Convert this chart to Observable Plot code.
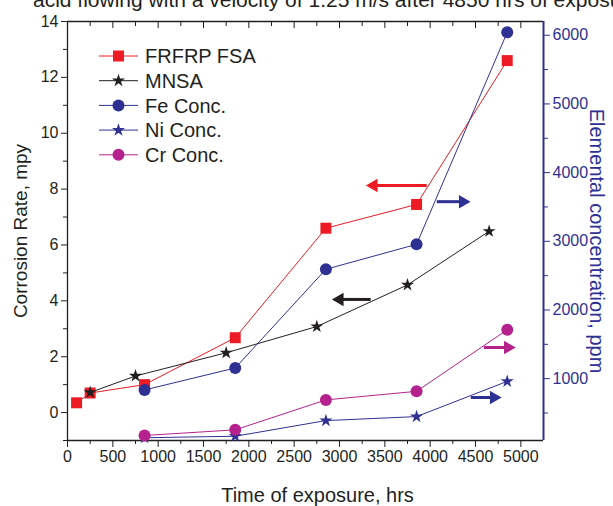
<!DOCTYPE html>
<html><head><meta charset="utf-8">
<script src="https://cdn.jsdelivr.net/npm/d3@7"></script>
<script src="https://cdn.jsdelivr.net/npm/@observablehq/plot@0.6"></script>
<style>
body{margin:0;background:#fff;overflow:hidden}
#wrap{position:relative;width:613px;height:506px;overflow:hidden;background:#fff}
#title{position:absolute;left:33px;top:-12px;white-space:nowrap;font:21px "Liberation Sans",Arial,sans-serif;color:#231f20}
#chart{position:absolute;left:0;top:0}
</style></head><body><div id="wrap"><div id="chart"></div><div id="title">acid flowing with a velocity of 1.25 m/s after 4850 hrs of exposure</div></div>
<script>
// ---- data ----
const frfrpTime = [100, 250, 850, 1850, 2850, 3850, 4850];
const frfrpRate = [0.35, 0.70, 1.00, 2.68, 6.60, 7.45, 12.60];
const mnsaTime  = [250, 750, 1750, 2750, 3750, 4650];
const mnsaRate  = [0.72, 1.31, 2.14, 3.08, 4.57, 6.49];
const elemTime  = [850, 1850, 2850, 3850, 4850];
const feConc    = [836, 1156, 2593, 2956, 6043];
const niConc    = [140, 162, 390, 448, 961];
const crConc    = [173, 255, 691, 816, 1712];
const xMajorTicks = [0, 500, 1000, 1500, 2000, 2500, 3000, 3500, 4000, 4500, 5000];
const xMinorTicks = [250, 750, 1250, 1750, 2250, 2750, 3250, 3750, 4250, 4750];
const yMajorTicks = [0, 2, 4, 6, 8, 10, 12, 14];
const yMinorTicks = [-1, 1, 3, 5, 7, 9, 11, 13];
const ppmMajorTicks = [1000, 2000, 3000, 4000, 5000, 6000];
const ppmMinorTicks = [500, 1500, 2500, 3500, 4500, 5500];
const seriesNames = ["FRFRP FSA", "MNSA", "Fe Conc.", "Ni Conc.", "Cr Conc."];
// direction arrows (annotation): start time, end time, level on left axis
const arrowX1 = [3962, 4073, 3344, 4592, 4448];
const arrowX2 = [3377, 4360, 3002, 4857, 4702];
const arrowY  = [8.13, 7.55, 4.05, 2.33, 0.54];

// ---- styles ----
const RED = "#ed1c24", BLACK = "#231f20", NAVY = "#2e3192", MAG = "#b5228e";
const seriesColors = [RED, BLACK, NAVY, NAVY, MAG];
const seriesSymbols = ["square", "star", "circle", "star", "circle"];
const seriesR = [6.2, 4.1, 6, 4.1, 6];
const arrowColors = [RED, NAVY, BLACK, MAG, NAVY];
const FONT = '"Liberation Sans", Arial, sans-serif';

// right axis (ppm) mapped onto the left scale
const yLo = -1, yHi = 14, pLo = 100, pHi = 6200;
const toLeft = p => yLo + (p - pLo) * (yHi - yLo) / (pHi - pLo);
const fromLeft = v => pLo + (v - yLo) * (pHi - pLo) / (yHi - yLo);

const frfrp = frfrpTime.map((t, i) => ({t, v: frfrpRate[i]}));
const mnsa = mnsaTime.map((t, i) => ({t, v: mnsaRate[i]}));
const fe = elemTime.map((t, i) => ({t, v: toLeft(feConc[i])}));
const ni = elemTime.map((t, i) => ({t, v: toLeft(niConc[i])}));
const cr = elemTime.map((t, i) => ({t, v: toLeft(crConc[i])}));
const series = [frfrp, mnsa, fe, ni, cr];
const arrows = arrowX1.map((x1, i) => ({x1, x2: arrowX2[i], y: arrowY[i], c: arrowColors[i], dir: arrowX2[i] > x1 ? 90 : -90}));

function legend(index, scales, values, dims) {
  const g = d3.create("svg:g");
  const x0 = dims.marginLeft + 32, y0 = dims.marginTop + 35, step = 24.7;
  seriesNames.forEach((name, i) => {
    const y = y0 + i * step;
    g.append("line").attr("x1", x0).attr("x2", x0 + 39).attr("y1", y).attr("y2", y)
      .attr("stroke", seriesColors[i]).attr("stroke-width", 1);
    const sym = {square: d3.symbolSquare, star: d3.symbolStar, circle: d3.symbolCircle}[seriesSymbols[i]];
    g.append("path").attr("transform", `translate(${x0 + 19.5},${y})`)
      .attr("d", d3.symbol(sym, Math.PI * seriesR[i] * seriesR[i])())
      .attr("fill", seriesColors[i]);
    g.append("text").attr("x", x0 + 46).attr("y", y).attr("dy", "0.36em")
      .attr("text-anchor", "start")
      .attr("font-size", 20).attr("font-family", FONT).attr("fill", BLACK).text(name);
  });
  return g.node();
}

const marks = [
  // frame lines
  Plot.ruleY([yHi], {stroke: BLACK, strokeWidth: 1.3}),
  Plot.ruleY([yLo], {stroke: BLACK, strokeWidth: 1.3}),
  Plot.ruleX([0], {stroke: BLACK, strokeWidth: 1.3}),
  // axes
  Plot.axisX(xMajorTicks, {anchor: "bottom", tickSize: 7, tickPadding: 3, tickFormat: d => String(d), label: null, fontSize: 16, color: BLACK}),
  Plot.axisX(xMinorTicks, {anchor: "bottom", tickSize: 4, tickFormat: () => "", label: null, color: BLACK}),
  Plot.axisX(xMajorTicks, {anchor: "top", tickSize: 6, dy: 6, tickFormat: () => "", label: null, color: BLACK}),
  Plot.axisX(xMinorTicks, {anchor: "top", tickSize: 4, dy: 4, tickFormat: () => "", label: null, color: BLACK}),
  Plot.axisY(yMajorTicks, {anchor: "left", tickSize: 6, tickPadding: 3, tickFormat: d => String(d), label: null, fontSize: 16, color: BLACK}),
  Plot.axisY(yMinorTicks, {anchor: "left", tickSize: 4, tickFormat: () => "", label: null, color: BLACK}),
  Plot.axisY(ppmMajorTicks.map(toLeft), {anchor: "right", tickSize: 6, tickPadding: 3, tickFormat: v => String(Math.round(fromLeft(v))), label: null, fontSize: 16, color: NAVY}),
  Plot.axisY(ppmMinorTicks.map(toLeft), {anchor: "right", tickSize: 4, tickFormat: () => "", label: null, color: NAVY}),
  Plot.ruleX([5250], {stroke: NAVY, strokeWidth: 2}),
  // axis titles
  Plot.text(["Corrosion Rate, mpy"], {frameAnchor: "left", textAnchor: "middle", dx: -47, rotate: -90, fontSize: 19, fill: BLACK, text: d => d}),
  Plot.text(["Elemental concentration, ppm"], {frameAnchor: "right", textAnchor: "middle", dx: 53, dy: 10, rotate: 90, fontSize: 20, fill: NAVY, text: d => d}),
  Plot.text(["Time of exposure, hrs"], {frameAnchor: "bottom", textAnchor: "middle", dx: 12, dy: 61, fontSize: 20, fill: BLACK, text: d => d}),
];
series.forEach((s, i) => {
  marks.push(Plot.line(s, {x: "t", y: "v", stroke: seriesColors[i], strokeWidth: 1}));
});
series.forEach((s, i) => {
  marks.push(Plot.dot(s, {x: "t", y: "v", symbol: seriesSymbols[i], r: seriesR[i], fill: seriesColors[i], stroke: "none"}));
});
marks.push(Plot.link(arrows, {x1: "x1", x2: "x2", y1: "y", y2: "y", stroke: "c", strokeWidth: 3}));
marks.push(Plot.dot(arrows, {x: "x2", y: "y", symbol: "triangle", rotate: "dir", r: 5, fill: "c", stroke: "none"}));
marks.push(legend);

const chart = Plot.plot({
  width: 613, height: 506,
  marginTop: 21, marginBottom: 66, marginLeft: 67, marginRight: 70,
  style: {fontFamily: FONT, fontSize: "16px", color: BLACK, background: "white", overflow: "visible"},
  x: {domain: [0, 5250], axis: null},
  y: {domain: [yLo, yHi], axis: null},
  marks
});
document.getElementById("chart").appendChild(chart);
</script></body></html>
